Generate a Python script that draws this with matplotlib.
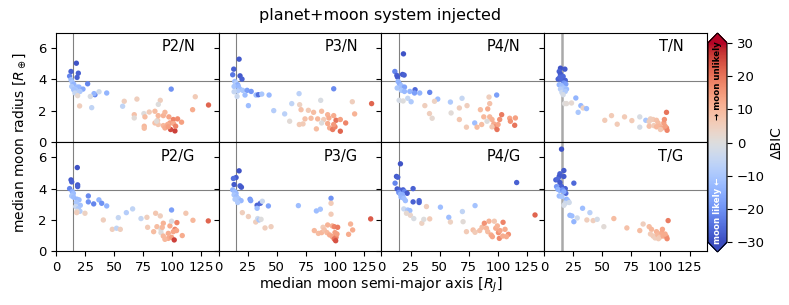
#
# planet+moon injection grid: moon radius vs semi-major axis, coloured by dBIC
#
import matplotlib
matplotlib.use('Agg')
import matplotlib.pyplot as plt
from matplotlib.ticker import MultipleLocator
import numpy as np

# ---- P2/N ----
p2n_a = [17.5, 12.9, 19.2, 11.7, 18.1, 12.9, 14.0, 15.2, 13.5, 27.2, 18.1, 19.8, 16.9, 23.2, 20.6, 18.6, 15.2, 16.3,
         33.5, 32.7, 37.0, 43.6, 29.5, 18.6, 20.3, 30.7, 58.7, 69.6, 57.3, 89.7, 88.0, 99.1, 119.8, 117.5, 131.2,
         67.3, 67.3, 75.6, 80.2, 76.5, 85.1, 87.4, 87.9, 92.3, 93.7, 97.1, 100.9, 104.6, 108.0, 98.0, 101.1, 75.9,
         75.9, 85.1, 87.9, 86.5, 92.3, 93.7, 96.0, 98.6, 102.3, 102.9, 96.6]
p2n_r = [5.04, 4.51, 4.40, 4.21, 4.13, 3.98, 3.81, 3.70, 3.55, 3.72, 3.51, 3.51, 3.34, 3.38, 3.23, 3.17, 3.34, 3.13,
         3.02, 3.09, 3.21, 3.13, 2.91, 2.96, 2.30, 2.19, 2.60, 2.74, 2.28, 2.66, 2.40, 3.38, 2.89, 2.06, 2.36,
         1.74, 1.53, 1.81, 1.91, 1.60, 1.96, 1.38, 1.68, 1.68, 1.89, 1.60, 1.43, 1.47, 1.26, 1.21, 1.17, 1.00,
         0.87, 1.21, 1.11, 1.32, 1.04, 0.89, 1.11, 0.79, 0.70, 1.00, 0.96]
p2n_bic = [-29, -27, -27, -22, -27, -12, -10, -14, -9, -22, -12, -13, -10, -16, -9, -8, -11, -5,
           -22, -14, -3, -14, -1, 2, 5, -6, 5, 5, -6, 5, 0, -20, 6, 12, 22,
           8, 1, 0, 6, 9, 9, 6, 10, 11, 10, 13, 18, 17, 14, 14, 12, 10,
           9, 8, 7, 1, 10, 12, 12, 25, 26, 18, 14]

# ---- P3/N ----
p3n_a = [17.5, 12.9, 12.0, 18.3, 20.0, 13.8, 14.9, 16.3, 13.2, 16.9, 18.1, 20.6, 24.4, 27.9, 16.3, 13.2, 22.6, 32.1,
         34.1, 37.0, 43.3, 15.8, 25.5, 47.3, 56.7, 61.0, 62.8, 69.1, 69.6, 87.7, 98.9, 114.9, 116.9, 131.5,
         70.8, 77.1, 74.2, 79.4, 81.6, 85.1, 88.5, 90.3, 93.7, 94.8, 98.9, 100.9, 104.6, 109.2, 69.3, 72.5, 84.0,
         88.5, 93.7, 95.4, 98.0, 100.0, 98.9, 104.6]
p3n_r = [5.30, 4.66, 4.30, 4.23, 4.02, 3.87, 3.77, 3.66, 3.55, 3.55, 3.38, 3.30, 3.30, 3.23, 3.26, 3.21, 3.00, 3.00,
         3.02, 3.06, 3.00, 2.91, 2.32, 2.00, 1.79, 1.32, 2.45, 3.09, 2.38, 2.66, 3.40, 2.57, 1.79, 2.45,
         2.06, 2.02, 1.47, 1.51, 1.89, 1.47, 1.96, 1.43, 1.74, 1.53, 1.68, 1.38, 1.43, 1.21, 1.11, 1.15, 0.83,
         1.21, 1.17, 0.89, 0.79, 0.96, 1.11, 0.68]
p3n_bic = [-28, -27, -24, -28, -27, -12, -8, -15, -10, -13, -12, -10, -18, -19, -8, -5, -12, -12,
           -25, -10, -13, -4, -12, -8, -7, 1, -6, -7, 4, -1, -21, 5, 11, 22,
           8, 6, 8, 9, 9, 10, 9, 6, 11, 12, 12, 20, 14, 18, 6, 6, 9,
           0, 12, 12, 19, 18, 15, 22]

# ---- P4/N ----
p4n_a = [18.9, 11.5, 13.2, 13.8, 18.1, 19.5, 14.3, 15.5, 16.9, 13.5, 18.1, 19.8, 17.1, 19.8, 24.4, 28.9, 28.4, 32.9,
         41.5, 48.4, 15.2, 18.6, 22.6, 25.5, 59.3, 69.3, 37.3, 45.6, 41.3, 43.6, 59.9, 67.0, 73.6, 67.0, 73.1,
         92.5, 99.1, 85.1, 91.4, 93.1, 80.2, 82.2, 86.2, 90.8, 93.1, 95.1, 96.6, 98.0, 99.4, 101.7, 103.4, 100.3,
         95.1, 110.3, 110.9, 115.2, 114.6, 88.0]
p4n_r = [5.64, 4.51, 4.26, 4.15, 4.32, 4.28, 3.87, 3.72, 3.60, 3.45, 3.45, 3.51, 3.30, 3.23, 3.23, 3.34, 3.13, 3.13,
         3.17, 2.74, 2.66, 2.62, 2.79, 2.57, 2.55, 2.79, 2.32, 2.60, 1.81, 1.51, 1.85, 2.17, 2.32, 1.43, 0.94,
         2.87, 3.00, 2.06, 2.11, 2.45, 1.21, 0.94, 1.11, 1.32, 1.60, 1.43, 1.15, 0.96, 0.79, 1.43, 1.74, 1.11,
         0.96, 1.51, 1.32, 1.53, 1.06, 1.60]
p4n_bic = [-29, -22, -27, -28, -28, -27, -14, -15, -12, -10, -12, -17, -10, -13, -14, -26, -18, -14,
           -22, -12, -2, 0, -5, -9, -9, -5, 5, 4, 5, 2, 1, 5, 5, 7, 6,
           5, -18, 9, 12, 8, -12, 9, 9, 0, 10, 11, 12, 17, 20, 16, 19, 13,
           7, 13, 16, 14, 20, 10]

# ---- T/N ----
tn_a = [14.0, 17.8, 12.9, 14.0, 16.3, 12.0, 15.2, 18.1, 13.5, 16.9, 18.6, 12.9, 14.9, 16.9, 19.2, 14.0, 15.2, 18.1,
        16.3, 27.2, 17.5, 19.2, 23.5, 31.5, 33.5, 36.4, 29.2, 52.1, 57.9, 62.8, 69.1, 75.4, 82.2, 82.2, 87.4,
        90.3, 91.4, 93.7, 96.6, 98.0, 90.3, 94.3, 96.6, 99.4, 101.1, 102.9, 103.4, 105.2, 105.2, 105.7, 104.0, 100.0]
tn_r = [4.72, 4.66, 4.51, 4.34, 4.19, 4.02, 3.98, 3.94, 4.15, 3.77, 3.70, 3.66, 3.60, 3.45, 3.38, 3.38, 3.17, 3.23,
        3.02, 2.81, 2.45, 2.45, 2.49, 2.32, 2.17, 2.13, 1.89, 1.38, 1.68, 1.13, 1.60, 1.36, 1.60, 0.94, 1.38,
        1.30, 1.47, 1.43, 1.38, 1.21, 1.00, 1.04, 0.96, 1.00, 0.87, 1.21, 1.43, 1.89, 0.89, 0.74, 1.00, 0.79]
tn_bic = [-29, -28, -27, -28, -26, -27, -26, -27, -26, -20, -18, -14, -12, -10, -12, -8, -4, -9,
          -2, -14, 0, 1, 2, -13, 4, -12, -10, 6, 6, 6, 6, 6, -1, -2, -10,
          5, 5, 6, 8, 9, 8, 6, 10, 10, 12, 14, 16, 20, 17, 18, 14, 7]

# ---- P2/G ----
p2g_a = [18.3, 12.9, 13.5, 18.6, 18.6, 11.7, 14.0, 14.9, 13.5, 15.2, 27.8, 18.1, 19.8, 27.8, 32.4, 36.9, 39.3, 43.6,
         17.5, 20.9, 16.9, 19.2, 20.6, 18.1, 17.8, 24.9, 40.7, 48.4, 52.1, 55.3, 53.6, 60.5, 65.9, 73.1, 78.2,
         78.8, 85.7, 89.7, 84.0, 86.8, 90.3, 90.3, 92.3, 91.4, 92.3, 96.6, 98.0, 99.4, 99.4, 104.0, 102.3, 100.9,
         96.6, 99.4, 101.7, 93.7, 103.7, 108.6, 111.7, 117.8, 131.0]
p2g_r = [5.35, 4.56, 4.43, 4.24, 4.13, 4.00, 3.81, 3.70, 3.53, 3.45, 3.53, 3.32, 3.28, 3.15, 3.02, 3.28, 3.06, 2.89,
         3.11, 2.93, 2.85, 2.72, 2.55, 2.55, 2.46, 2.42, 1.99, 1.39, 1.46, 1.39, 2.14, 2.46, 2.70, 2.08, 2.16,
         1.52, 2.42, 2.25, 1.24, 1.56, 1.39, 1.18, 1.78, 1.52, 0.96, 1.13, 1.61, 2.63, 1.91, 1.82, 1.39, 1.24,
         0.81, 0.88, 0.71, 0.75, 1.31, 0.99, 2.42, 1.97, 1.93]
p2g_bic = [-29, -28, -27, -28, -27, -22, -15, -12, -10, -12, -21, -13, -12, -20, -22, -14, -20, -14,
           -10, -11, -4, -9, -8, 1, 5, 4, 5, 5, -6, 5, -5, -8, -6, -5, 5,
           6, 7, 5, 9, 9, 0, 0, 11, 10, 10, 12, 12, -18, -1, 18, 18, 13,
           12, 14, 26, 10, 13, 12, 7, 10, 22]

# ---- P3/G ----
p3g_a = [17.5, 14.9, 12.6, 13.2, 18.3, 19.5, 12.0, 13.8, 14.9, 13.2, 15.2, 16.9, 19.2, 14.0, 26.9, 27.5, 33.0, 35.8,
         37.5, 33.0, 42.7, 16.3, 20.3, 25.5, 31.8, 33.5, 34.7, 36.4, 39.8, 45.0, 68.5, 84.0, 87.4, 96.6, 96.6,
         96.6, 82.2, 85.7, 88.5, 89.7, 90.8, 93.1, 93.7, 95.4, 97.7, 97.7, 99.4, 100.0, 100.9, 99.4, 100.6, 102.3,
         101.7, 111.7, 113.4, 115.2, 130.7]
p3g_r = [5.14, 4.71, 4.65, 4.26, 4.18, 4.09, 3.92, 3.81, 3.70, 3.60, 3.49, 3.36, 3.23, 3.32, 3.32, 3.23, 2.93, 3.06,
         3.19, 2.74, 2.89, 3.11, 2.46, 2.21, 1.86, 2.08, 1.99, 2.03, 1.48, 1.56, 2.91, 2.57, 2.68, 3.38, 3.06,
         2.36, 1.31, 1.13, 1.18, 1.52, 1.35, 1.18, 1.67, 1.03, 1.61, 0.92, 1.56, 1.18, 0.88, 0.77, 0.66, 1.52,
         1.09, 1.07, 1.73, 1.35, 2.06]
p3g_bic = [-29, -28, -25, -28, -27, -28, -14, -12, -13, -10, -12, -10, -13, -9, -19, -18, -27, -26,
           -4, -12, -17, -9, 5, 5, 5, -3, -10, 0, 5, 5, -12, -12, -11, -20, 6,
           6, 10, 9, 10, 6, 8, 10, 11, 12, 11, 13, 18, 14, 18, 20, 24, 19,
           14, 12, 11, 12, 23]

# ---- P4/G ----
p4g_a = [16.3, 12.9, 14.0, 11.7, 13.5, 15.2, 16.9, 18.6, 19.8, 22.1, 27.2, 14.9, 16.3, 18.1, 16.9, 19.2, 20.6, 27.2,
         32.4, 32.4, 19.2, 22.6, 24.4, 21.5, 24.9, 27.8, 34.7, 36.4, 38.7, 41.5, 50.7, 57.9, 59.3, 69.6, 70.2,
         80.5, 73.1, 78.8, 80.5, 84.5, 86.5, 88.5, 90.3, 91.4, 92.5, 94.3, 95.4, 97.1, 98.3, 99.7, 100.6, 101.4,
         102.0, 104.3, 104.6, 106.3, 109.2, 107.5, 116.3, 132.1]
p4g_r = [5.59, 4.78, 4.73, 4.35, 3.98, 3.92, 3.88, 3.92, 3.81, 3.70, 4.00, 3.75, 3.64, 3.60, 3.45, 3.38, 3.23, 3.15,
         3.23, 3.11, 2.70, 2.63, 2.59, 2.42, 2.29, 2.08, 1.78, 2.03, 2.85, 2.06, 2.81, 2.16, 1.86, 2.53, 1.88,
         2.91, 1.24, 1.35, 1.20, 1.31, 1.52, 1.78, 1.46, 1.24, 1.91, 1.03, 0.92, 1.91, 1.46, 1.61, 1.18, 0.81,
         1.31, 0.96, 1.84, 1.39, 1.07, 0.92, 4.39, 2.31]
p4g_bic = [-29, -28, -27, -22, -28, -27, -26, -27, -22, -28, -27, -20, -14, -15, -14, -12, -12, -27,
           -26, -27, -4, -10, -12, 2, 3, -1, 4, 0, 5, 6, -12, -12, 4, -6, 1,
           -11, 6, 8, 6, 8, 9, 16, 10, 9, 11, 12, 13, 7, 12, 11, 16, 17,
           13, 12, 18, 12, 16, 12, -27, 22]

# ---- T/G ----
tg_a = [14.9, 16.9, 13.5, 12.9, 16.9, 10.0, 11.7, 13.5, 25.5, 14.9, 18.1, 18.6, 10.6, 11.7, 13.5, 15.8, 16.9, 12.9,
        15.2, 19.2, 20.3, 18.1, 21.5, 16.9, 33.0, 39.3, 22.1, 23.8, 25.5, 28.4, 36.7, 42.1, 45.6, 51.3, 59.9,
        71.1, 82.2, 85.1, 90.3, 92.3, 91.4, 93.7, 95.4, 96.6, 97.7, 99.4, 101.1, 101.7, 102.3, 105.2, 105.7, 104.0,
        106.6, 98.3]
tg_r = [6.53, 5.16, 4.95, 4.78, 4.78, 4.56, 4.60, 4.39, 4.35, 4.13, 4.00, 3.70, 4.13, 3.96, 3.88, 3.92, 3.81, 3.53,
        3.49, 3.32, 3.23, 3.06, 3.11, 2.93, 2.74, 2.46, 2.29, 2.25, 1.88, 2.12, 1.99, 1.95, 2.03, 1.56, 2.08,
        1.48, 1.31, 1.73, 1.56, 1.39, 1.09, 0.96, 0.84, 1.24, 1.03, 0.88, 1.18, 1.39, 0.96, 0.92, 0.79, 1.09,
        1.95, 0.79]
tg_bic = [-29, -28, -27, -28, -28, -27, -26, -28, -26, -27, -27, -26, -19, -15, -14, -20, -16, -12,
          -10, -14, -12, -4, -3, -2, -12, -7, -13, -12, -14, -3, 5, 5, -2, 1, 9,
          8, 9, 5, 9, 10, 6, 6, 5, 11, 10, 7, 12, 13, 12, 14, 17, 12,
          19, 6]

panels = [('P2/N', p2n_a, p2n_r, p2n_bic), ('P3/N', p3n_a, p3n_r, p3n_bic),
          ('P4/N', p4n_a, p4n_r, p4n_bic), ('T/N', tn_a, tn_r, tn_bic),
          ('P2/G', p2g_a, p2g_r, p2g_bic), ('P3/G', p3g_a, p3g_r, p3g_bic),
          ('P4/G', p4g_a, p4g_r, p4g_bic), ('T/G', tg_a, tg_r, tg_bic)]

r_nep = 3.88  # Neptune radius in earth radii
a_lim = 15

fig, axes = plt.subplots(2, 4, figsize=(7.89, 3.05), dpi=100, sharex=True, sharey=True)
fig.subplots_adjust(left=0.071, right=0.896, top=0.893, bottom=0.177, wspace=0, hspace=0)

for ax, (name, a, r, b) in zip(axes.flat, panels):
    if name.startswith('T'):
        ax.axvline(a_lim, color='darkgrey', lw=1.8, zorder=1)
    else:
        ax.axvline(a_lim, color='grey', lw=0.8, zorder=1)
    ax.axhline(r_nep, color='grey', lw=0.8, zorder=1)
    sc = ax.scatter(a, r, c=b, cmap='coolwarm', vmin=-30, vmax=30, s=15, edgecolors='none', zorder=2)
    ax.text(0.855, 0.87, name, transform=ax.transAxes, ha='right', va='center', fontsize=10.5)
    ax.tick_params(labelsize=9.5)

axes[0, 0].set_xlim(0, 140)
axes[0, 0].set_ylim(0, 7)
axes[0, 0].xaxis.set_major_locator(MultipleLocator(25))
axes[0, 0].set_yticks([0, 2, 4, 6])

# Colourbar with the arrows written inside
cax = fig.add_axes([708 / 789, 53 / 305, 19 / 789, 219 / 305])
cb = fig.colorbar(sc, cax=cax, extend='both')
cb.set_ticks([-30, -20, -10, 0, 10, 20, 30])
cb.ax.tick_params(labelsize=9.5)
cb.set_label('ΔBIC', fontsize=10)
cax.text(0.5, 18.5, '→ moon unlikely', rotation=90, ha='center', va='center', fontsize=6.2,
         color='k', fontweight='bold')
cax.text(0.5, -20.5, 'moon likely ←', rotation=90, ha='center', va='center', fontsize=6.2,
         color='white', fontweight='bold')

fig.text(0.482, 0.948, 'planet+moon system injected', ha='center', va='center', fontsize=11.5)
fig.text(0.483, 0.066, r'median moon semi-major axis [$R_J$]', ha='center', va='center', fontsize=10.2)
fig.text(0.025, 0.534, r'median moon radius [$R_\oplus$]', ha='center', va='center', rotation=90, fontsize=10)

fig.savefig('out.png', dpi=100)
